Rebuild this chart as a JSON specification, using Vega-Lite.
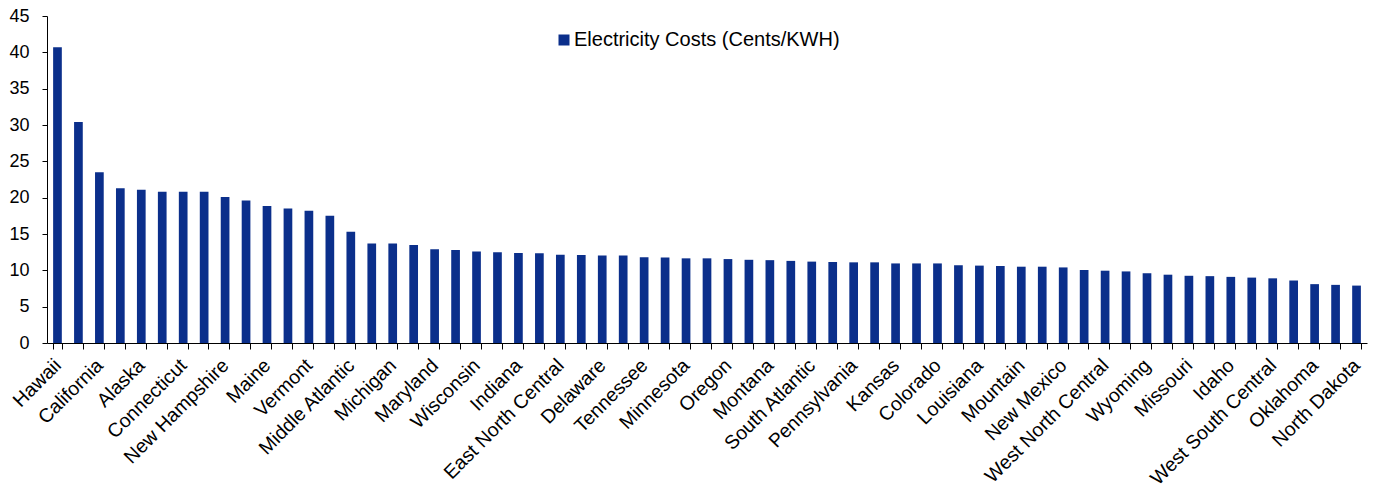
{
  "$schema": "https://vega.github.io/schema/vega-lite/v6.json",
  "width": 1320,
  "height": 327,
  "autosize": {"type": "none"},
  "padding": {"left": 47, "top": 16, "right": 8, "bottom": 147},
  "background": "white",
  "config": {
    "view": {"stroke": null},
    "font": "Liberation Sans"
  },
  "data": {
    "values": [
      {"region": "Hawaii", "cost": 40.7},
      {"region": "Pacific Noncontiguous", "cost": 30.4},
      {"region": "California", "cost": 23.5},
      {"region": "Massachusetts", "cost": 21.3},
      {"region": "Alaska", "cost": 21.1},
      {"region": "Rhode Island", "cost": 20.8},
      {"region": "Connecticut", "cost": 20.8},
      {"region": "New England", "cost": 20.8},
      {"region": "New Hampshire", "cost": 20.1},
      {"region": "New York", "cost": 19.6},
      {"region": "Maine", "cost": 18.85},
      {"region": "Pacific Contiguous", "cost": 18.5},
      {"region": "Vermont", "cost": 18.2},
      {"region": "New Jersey", "cost": 17.5},
      {"region": "Middle Atlantic", "cost": 15.3},
      {"region": "U.S. Total", "cost": 13.7},
      {"region": "Michigan", "cost": 13.7},
      {"region": "Illinois", "cost": 13.5},
      {"region": "Maryland", "cost": 12.9},
      {"region": "Florida", "cost": 12.8},
      {"region": "Wisconsin", "cost": 12.6},
      {"region": "Ohio", "cost": 12.5},
      {"region": "Indiana", "cost": 12.4},
      {"region": "Arizona", "cost": 12.35},
      {"region": "East North Central", "cost": 12.15},
      {"region": "Alabama", "cost": 12.1},
      {"region": "Delaware", "cost": 12.05},
      {"region": "Nevada", "cost": 12.05},
      {"region": "Tennessee", "cost": 11.8},
      {"region": "Georgia", "cost": 11.75},
      {"region": "Minnesota", "cost": 11.65},
      {"region": "South Carolina", "cost": 11.65},
      {"region": "Oregon", "cost": 11.55},
      {"region": "Texas", "cost": 11.45},
      {"region": "Montana", "cost": 11.4},
      {"region": "North Carolina", "cost": 11.3},
      {"region": "South Atlantic", "cost": 11.2},
      {"region": "Iowa", "cost": 11.15},
      {"region": "Pennsylvania", "cost": 11.1},
      {"region": "Mississippi", "cost": 11.1},
      {"region": "Kansas", "cost": 10.95},
      {"region": "East South Central", "cost": 10.95},
      {"region": "Colorado", "cost": 10.95},
      {"region": "District of Columbia", "cost": 10.7},
      {"region": "Louisiana", "cost": 10.65},
      {"region": "Virginia", "cost": 10.6},
      {"region": "Mountain", "cost": 10.5},
      {"region": "South Dakota", "cost": 10.5},
      {"region": "New Mexico", "cost": 10.4},
      {"region": "Kentucky", "cost": 10.05},
      {"region": "West North Central", "cost": 9.95},
      {"region": "Arkansas", "cost": 9.85},
      {"region": "Wyoming", "cost": 9.6},
      {"region": "West Virginia", "cost": 9.4},
      {"region": "Missouri", "cost": 9.25},
      {"region": "Nebraska", "cost": 9.2},
      {"region": "Idaho", "cost": 9.1},
      {"region": "Utah", "cost": 9.0},
      {"region": "West South Central", "cost": 8.9},
      {"region": "Washington", "cost": 8.6},
      {"region": "Oklahoma", "cost": 8.1},
      {"region": "Pacific", "cost": 8.0},
      {"region": "North Dakota", "cost": 7.9}
    ]
  },
  "mark": {"type": "bar"},
  "encoding": {
    "x": {
      "field": "region",
      "type": "nominal",
      "sort": null,
      "scale": {"paddingInner": 0.585, "paddingOuter": 0.2925},
      "axis": {
        "title": null,
        "labelAngle": -45,
        "labelAlign": "right",
        "labelBaseline": "middle",
        "labelFontSize": 19.5,
        "labelFont": "Liberation Sans",
        "labelColor": "#000000",
        "labelOverlap": false,
        "labelPadding": 13,
        "labelLimit": 0,
        "labelExpr": "indexof(['Hawaii','California','Alaska','Connecticut','New Hampshire','Maine','Vermont','Middle Atlantic','Michigan','Maryland','Wisconsin','Indiana','East North Central','Delaware','Tennessee','Minnesota','Oregon','Montana','South Atlantic','Pennsylvania','Kansas','Colorado','Louisiana','Mountain','New Mexico','West North Central','Wyoming','Missouri','Idaho','West South Central','Oklahoma','North Dakota'], datum.value) >= 0 ? datum.label : ''",
        "tickBand": "extent",
        "tickSize": 6,
        "tickColor": "#000000",
        "domainColor": "#000000",
        "domainWidth": 1,
        "grid": false
      }
    },
    "y": {
      "field": "cost",
      "type": "quantitative",
      "scale": {"domain": [0, 45], "nice": false},
      "axis": {
        "title": null,
        "values": [0, 5, 10, 15, 20, 25, 30, 35, 40, 45],
        "labelFontSize": 18,
        "labelFont": "Liberation Sans",
        "labelColor": "#000000",
        "labelPadding": 13,
        "tickSize": 5,
        "tickColor": "#000000",
        "domainColor": "#000000",
        "grid": false
      }
    },
    "color": {
      "datum": "Electricity Costs (Cents/KWH)",
      "type": "nominal",
      "scale": {"range": ["#0b2f8b"]},
      "legend": {
        "title": null,
        "orient": "none",
        "legendX": 507,
        "legendY": 14,
        "padding": 0,
        "symbolType": "square",
        "symbolSize": 121,
        "symbolStrokeWidth": 0,
        "labelFontSize": 20,
        "labelLimit": 0,
        "labelFont": "Liberation Sans",
        "labelColor": "#000000",
        "labelOffset": 0
      }
    }
  }
}
